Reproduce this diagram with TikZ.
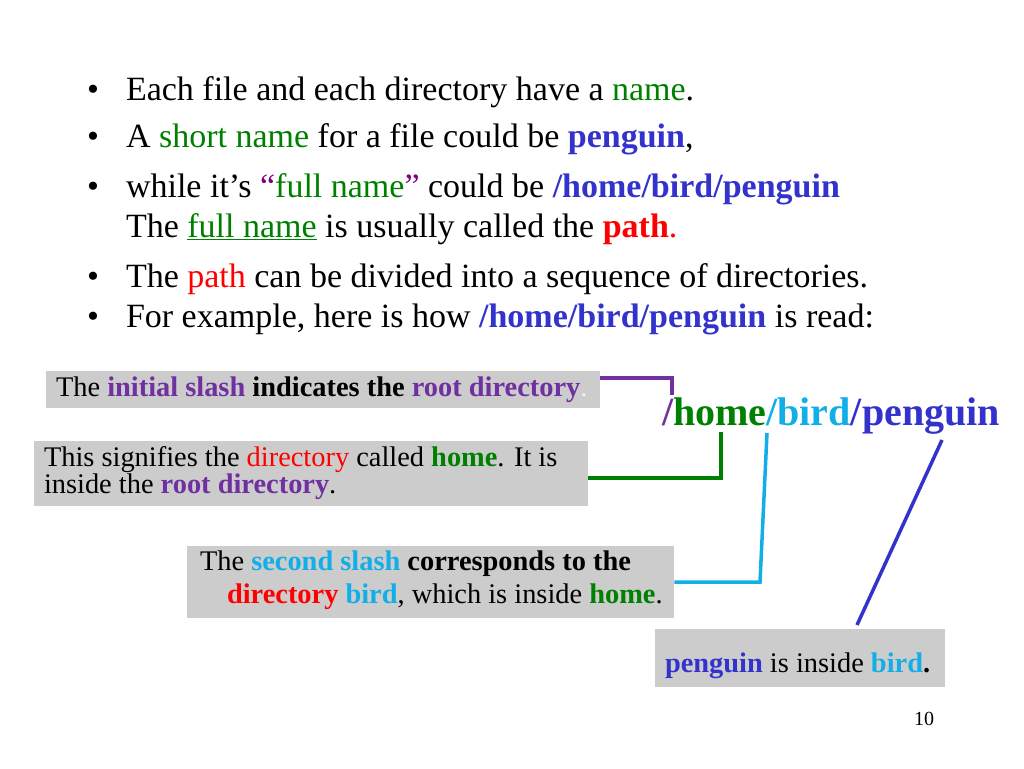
\documentclass[tikz,border=0pt]{standalone}
\usepackage{fontspec}
\setmainfont{Liberation Serif}
\definecolor{cgreen}{HTML}{008000}
\definecolor{cpurple}{HTML}{7030A0}
\definecolor{ccyan}{HTML}{12AEE8}
\definecolor{cblue}{HTML}{3333CC}
\definecolor{cred}{HTML}{FF0000}
\definecolor{cmag}{HTML}{800080}
\definecolor{cgray}{HTML}{CCCCCC}
\newcommand{\mainfontsz}{\fontsize{34}{40}\selectfont}
\newcommand{\boxfont}{\fontsize{28.4}{33}\selectfont}
\begin{document}
\begin{tikzpicture}[x=1pt,y=-1pt,
  txt/.style={anchor=base west,inner sep=0pt,outer sep=0pt},
  bul/.style={anchor=base,inner sep=0pt},
  graybox/.style={fill=cgray,draw=none,anchor=north west,inner sep=0pt},
  conn/.style={line width=3.5pt}]
\useasboundingbox (0,0) rectangle (1024,768);
% bullets
\node[bul,font=\mainfontsz] (u1) at (93,100) {•};
\node[bul,font=\mainfontsz] (u2) at (93,147) {•};
\node[bul,font=\mainfontsz] (u3) at (93,197) {•};
\node[bul,font=\mainfontsz] (u4) at (93,287) {•};
\node[bul,font=\mainfontsz] (u5) at (93,327) {•};
\node[txt,font=\mainfontsz] (l1) at (126,100) {Each file and each directory have a \textcolor{cgreen}{name}.};
\node[txt,font=\mainfontsz] (l2) at (126,147) {A \textcolor{cgreen}{short name} for a file could be \textcolor{cblue}{\bfseries penguin},};
\node[txt,font=\mainfontsz] (l3) at (126,197) {while it’s \textcolor{cmag}{“}\textcolor{cgreen}{full name}\textcolor{cmag}{”} could be \textcolor{cblue}{\bfseries /home/bird/penguin}};
\node[txt,font=\mainfontsz] (l4) at (126,237) {The \textcolor{cgreen}{\underline{full name}} is usually called the \textcolor{cred}{\bfseries path}\textcolor{cred}{.}};
\node[txt,font=\mainfontsz] (l5) at (126,287) {The \textcolor{cred}{path} can be divided into a sequence of directories.};
\node[txt,font=\mainfontsz] (l6) at (126,327) {For example, here is how \textcolor{cblue}{\bfseries /home/bird/penguin} is read:};
% big path
\node[txt,font=\fontsize{40}{46}\selectfont\bfseries] (path) at (662,425) {\textcolor{cpurple}{/}\textcolor{cgreen}{home}\textcolor{ccyan}{/bird}\textcolor{cblue}{/penguin}};
% boxes
\node[graybox,minimum width=554pt,minimum height=37pt] (b1) at (46,371) {};
\node[graybox,minimum width=554pt,minimum height=65pt] (b2) at (34,441) {};
\node[graybox,minimum width=487pt,minimum height=72pt] (b3) at (187,546) {};
\node[graybox,minimum width=290pt,minimum height=58pt] (b4) at (655,629) {};
% box texts
\node[txt,font=\boxfont] (t1) at (56,396) {The \textbf{\textcolor{cpurple}{initial slash} indicates the \textcolor{cpurple}{root directory}}\textcolor{white!90!gray}{.}};
\node[txt,font=\boxfont] (t2a) at (44,466) {This signifies the \textcolor{cred}{directory} called \textcolor{cgreen}{\bfseries home}. It is};
\node[txt,font=\boxfont] (t2b) at (44,493) {inside the \textcolor{cpurple}{\bfseries root directory}.};
\node[txt,font=\boxfont] (t3a) at (200,570) {The \textbf{\textcolor{ccyan}{second slash} corresponds to the}};
\node[txt,font=\boxfont] (t3b) at (227,603) {\textbf{\textcolor{cred}{directory} \textcolor{ccyan}{bird}}, which is inside \textcolor{cgreen}{\bfseries home}.};
\node[txt,font=\boxfont] (t4) at (665,672) {\textcolor{cblue}{\bfseries penguin} is inside \textbf{\textcolor{ccyan}{bird}.}};
% page number
\node[txt,font=\fontsize{20}{24}\selectfont] (pg) at (914,725) {10};
% connector end points
\coordinate (e1) at (672,395);
\coordinate (e2) at (721,432);
\coordinate (e3) at (767,433);
\coordinate (e3b) at (760,582);
\coordinate (e4) at (942,440);
\coordinate (e4b) at (857,625);
\draw[conn,cpurple] (b1.north east |- 0,378) -| (e1);
\draw[conn,cgreen] (b2.east |- 0,478) -| (e2);
\draw[conn,ccyan] (b3.east |- 0,582) -- (e3b) -- (e3);
\draw[conn,cblue] (e4) -- (e4b);
\end{tikzpicture}
\end{document}
